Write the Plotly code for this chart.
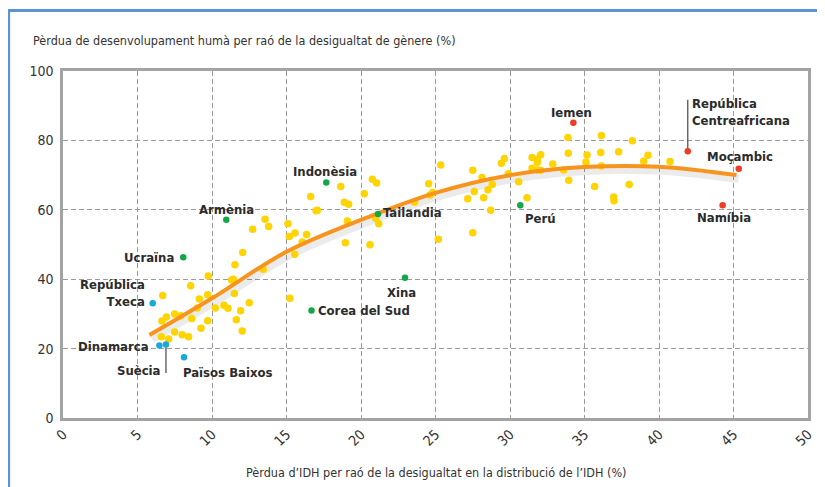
import plotly.graph_objects as go

# other countries (yellow)
other_x = [12.06, 11.54, 13.44, 9.75, 11.32, 11.43, 8.57, 6.69, 11.5, 9.71, 9.15, 12.5,
           10.8, 11.07, 10.22, 9.02, 11.92, 7.49, 7.9, 6.94, 8.64, 6.64, 11.63, 9.71,
           9.26, 12.03, 7.49, 8.0, 8.43, 6.6, 7.09,
           13.56, 12.73, 13.8, 15.1, 15.19, 15.57, 16.35, 16.06, 15.55, 18.95, 20.6,
           15.23, 18.64, 20.76, 21.05, 20.22, 16.62, 18.88, 19.17, 17.07, 16.98, 21.0,
           21.19, 19.08, 25.35, 24.54, 24.63, 24.81, 23.6, 25.19,
           33.89, 36.13, 38.21, 33.91, 35.17, 36.09, 37.29, 35.1, 36.13, 33.6, 33.94,
           35.68, 38.0, 36.96, 36.98, 31.48, 32.06, 31.83, 31.83, 29.62, 29.42, 32.87,
           31.48, 31.86, 32.06, 29.89, 30.58, 27.5, 28.12, 28.81, 28.52, 27.6, 27.16,
           28.23, 31.14, 28.7, 27.5, 38.97, 39.26, 40.74]
other_y = [47.7, 44.2, 42.9, 40.9, 39.8, 40.0, 38.1, 35.3, 35.9, 35.5, 34.3, 33.2,
           32.5, 31.6, 31.7, 31.7, 30.9, 30.0, 29.5, 29.1, 28.7, 27.95, 28.3, 28.0,
           25.9, 25.1, 24.8, 24.0, 23.4, 23.4, 22.8,
           57.3, 54.4, 55.2, 56.0, 52.3, 53.3, 52.9, 50.7, 47.2, 50.5, 49.9,
           34.5, 66.7, 68.8, 67.7, 64.6, 63.8, 62.2, 61.6, 59.9, 59.7, 57.5,
           56.0, 56.8, 72.9, 67.5, 64.3, 65.0, 62.2, 51.5,
           80.8, 81.4, 79.9, 76.3, 75.8, 76.5, 76.7, 73.8, 72.6, 71.5, 68.5,
           66.7, 67.3, 63.7, 62.6, 75.1, 75.9, 74.6, 73.7, 74.8, 73.4, 73.2,
           72.0, 71.5, 71.4, 70.4, 68.1, 71.4, 69.3, 67.3, 65.8, 65.3, 63.2,
           63.5, 63.5, 59.9, 53.4, 74.0, 75.7, 73.9]

green_names = ['Ucraïna', 'Armènia', 'Indonèsia', 'Tailandia', 'Xina', 'Corea del Sud', 'Perú']
green_x = [8.07, 10.96, 17.67, 21.14, 22.95, 16.68, 30.69]
green_y = [46.3, 57.1, 67.9, 58.8, 40.4, 31.0, 61.3]

blue_names = ['República<br>Txeca', 'Dinamarca', 'Suècia', 'Països Baixos']
blue_x = [6.02, 6.47, 6.91, 8.12]
blue_y = [33.1, 20.9, 21.2, 17.5]

red_names = ['Iemen', 'República<br>Centreafricana', 'Moçambic', 'Namíbia']
red_x = [34.25, 41.93, 45.35, 44.27]
red_y = [85.1, 76.9, 71.8, 61.3]

# trend curve
trend_x = [5.8, 10, 15, 20, 25, 30, 35, 40, 45.2]
trend_y = [23.9, 34.5, 47.9, 57.1, 64.9, 70.0, 72.3, 72.4, 70.0]

x_ticks = [0, 5, 10, 15, 20, 25, 30, 35, 40, 45, 50]
y_ticks = [0, 20, 40, 60, 80, 100]

FONT = 'DejaVu Sans Condensed, Liberation Sans Narrow, sans-serif'
YELLOW = '#ffd400'
GREEN = '#12a84a'
BLUE = '#19a7dc'
RED = '#ee3d23'
ORANGE = '#f7941d'


def cfont(size, color='#333', weight='normal'):
    return dict(family=FONT, size=size, color=color, weight=weight)


fig = go.Figure()

# soft shadow under the trend line
fig.add_scatter(x=[v + 0.15 for v in trend_x], y=[v - 1.0 for v in trend_y], mode='lines',
                line=dict(color='rgba(0,0,0,0.08)', width=9, shape='spline'),
                hoverinfo='skip', showlegend=False)

fig.add_scatter(x=other_x, y=other_y, mode='markers',
                marker=dict(color=YELLOW, size=7.5), showlegend=False)

fig.add_scatter(x=trend_x, y=trend_y, mode='lines',
                line=dict(color=ORANGE, width=4, shape='spline'), showlegend=False)

for xs, ys, names, col in [(green_x, green_y, green_names, GREEN),
                           (blue_x, blue_y, blue_names, BLUE),
                           (red_x, red_y, red_names, RED)]:
    fig.add_scatter(x=xs, y=ys, mode='markers', text=names,
                    marker=dict(color=col, size=6.5), showlegend=False)

# label placement: name -> (xanchor, xshift, yshift)
label_pos = {
    'Ucraïna': ('right', -7, 0),
    'Armènia': ('center', 0, 10),
    'Indonèsia': ('center', -1, 11),
    'Tailandia': ('left', 3, 1),
    'Xina': ('center', -3, -15),
    'Corea del Sud': ('left', 4, 0),
    'Perú': ('left', 3, -13),
    'República<br>Txeca': ('right', -6, 10),
    'Dinamarca': ('right', -8, -1),
    'Suècia': ('right', -3, -26),
    'Països Baixos': ('left', -3, -15),
    'Iemen': ('center', -2, 10),
    'República<br>Centreafricana': ('left', 2, 39),
    'Moçambic': ('center', 1, 12),
    'Namíbia': ('center', 1, -12),
}

for xs, ys, names in [(green_x, green_y, green_names), (blue_x, blue_y, blue_names),
                      (red_x, red_y, red_names)]:
    for xv, yv, name in zip(xs, ys, names):
        xa, dx, dy = label_pos[name]
        fig.add_annotation(x=xv, y=yv, text=name, showarrow=False,
                           xanchor=xa, yanchor='middle', xshift=dx, yshift=dy,
                           align='right' if xa == 'right' else 'left',
                           font=cfont(13, '#2b2b2b', 'bold'))

# leader lines
fig.add_annotation(x=blue_x[2], y=blue_y[2], ax=0, ay=30, text='', showarrow=True,
                   arrowhead=0, arrowwidth=1.3, arrowcolor='#555', standoff=3)
fig.add_annotation(x=red_x[1], y=red_y[1], ax=0, ay=-53, text='', showarrow=True,
                   arrowhead=0, arrowwidth=1.3, arrowcolor='#555', standoff=3)

# axis title at bottom
fig.add_annotation(xref='paper', yref='paper', x=0.5, y=-0.157, showarrow=False,
                   text='Pèrdua d’IDH per raó de la desigualtat en la distribució de l’IDH (%)',
                   xanchor='center', yanchor='middle', font=cfont(12.5))

# blue frame of the panel
fig.add_shape(type='line', xref='paper', yref='paper', x0=-0.073, x1=-0.073, y0=1.174, y1=-0.25,
              line=dict(color='#5b93d6', width=3))
fig.add_shape(type='line', xref='paper', yref='paper', x0=-0.075, x1=1.05, y0=1.174, y1=1.174,
              line=dict(color='#5b93d6', width=3))

axis_style = dict(showgrid=True, gridcolor='#9a9a9a', gridwidth=1.3, griddash='5px,3px',
                  showline=True, linecolor='#a3a3a3', linewidth=2.5, mirror=True,
                  zeroline=False, ticks='', automargin=False, tickfont=cfont(14))

fig.update_xaxes(range=[0, 50], tickvals=x_ticks, tickangle=-45, **axis_style)
fig.update_yaxes(range=[0, 100], tickvals=y_ticks, ticklabelstandoff=4, **axis_style)

# the page body adds 8px around the figure, so the figure is 8px smaller and shifted
fig.update_layout(
    width=817, height=479,
    margin=dict(l=55, r=17, t=63, b=69),
    paper_bgcolor='white', plot_bgcolor='white',
    title=dict(text='Pèrdua de desenvolupament humà per raó de la desigualtat de gènere (%)',
               x=25 / 817, xanchor='left', y=1 - 33 / 479, yanchor='middle',
               font=cfont(12.5)),
)

fig.write_html("out.html")
